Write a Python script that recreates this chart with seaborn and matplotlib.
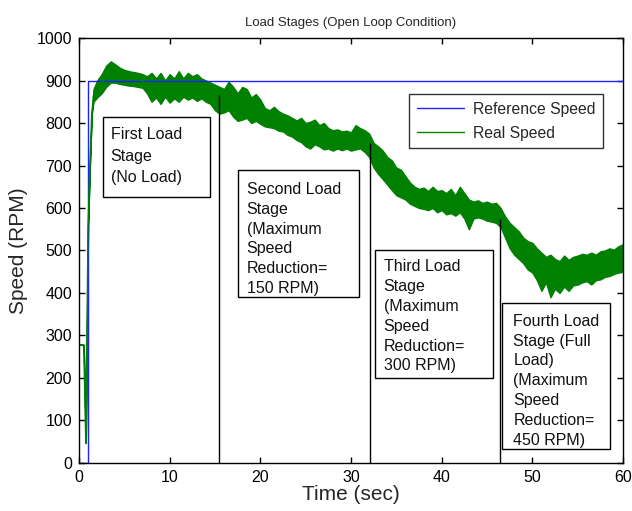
import numpy as np
import pandas as pd
import matplotlib
matplotlib.use("Agg")
import matplotlib.pyplot as plt
from matplotlib.patches import Rectangle
import seaborn as sns

# ---------------- data ----------------
ref_time = [0.0, 1.0, 1.0, 60.0]
ref_speed = [0, 0, 900, 900]

real_time = [0.0, 0.5, 0.55, 0.75, 0.85, 1.0, 1.2, 1.4, 1.6,
             2.0, 2.5, 3.0, 3.5, 4.0, 4.5, 5.0, 5.5, 6.0, 6.5, 7.0, 7.5,
             8.0, 8.5, 9.0, 9.5, 10.0, 10.5, 11.0, 11.5, 12.0, 12.5, 13.0, 13.5,
             14.0, 14.5, 15.0, 15.5, 16.0, 16.5, 17.0, 17.5, 18.0, 18.5, 19.0, 19.5,
             20.0, 20.5, 21.0, 21.5, 22.0, 22.5, 23.0, 23.5, 24.0, 24.5, 25.0, 25.5,
             26.0, 26.5, 27.0, 27.5, 28.0, 28.5, 29.0, 29.5, 30.0, 30.5, 31.0, 31.5,
             32.0, 32.5, 33.0, 33.5, 34.0, 34.5, 35.0, 35.5, 36.0, 36.5, 37.0, 37.5,
             38.0, 38.5, 39.0, 39.5, 40.0, 40.5, 41.0, 41.5, 42.0, 42.5, 43.0, 43.5,
             44.0, 44.5, 45.0, 45.5, 46.0, 46.5, 47.0, 47.5, 48.0, 48.5, 49.0, 49.5,
             50.0, 50.5, 51.0, 51.5, 52.0, 52.5, 53.0, 53.5, 54.0, 54.5, 55.0, 55.5,
             56.0, 56.5, 57.0, 57.5, 58.0, 58.5, 59.0, 59.5, 60.0]
real_low = [278, 278, 250, 47, 260, 560, 700, 820, 850,
            860, 870, 885, 895, 895, 892, 890, 888, 887, 885, 883, 870,
            850, 860, 845, 862, 848, 858, 850, 862, 855, 860, 852, 858,
            850, 845, 830, 822, 825, 830, 815, 805, 808, 812, 800, 805,
            798, 792, 790, 788, 782, 780, 772, 768, 760, 755, 745, 740,
            750, 745, 738, 740, 735, 740, 736, 740, 735, 738, 740, 732,
            720, 695, 680, 668, 655, 642, 630, 625, 620, 610, 605, 600,
            598, 595, 600, 590, 595, 585, 588, 582, 590, 575, 550, 575,
            578, 575, 570, 568, 565, 555, 530, 505, 490, 480, 470, 455,
            448, 430, 405, 425, 390, 410, 400, 415, 405, 418, 420, 425,
            428, 420, 430, 432, 438, 440, 445, 448, 450]
real_high = [278, 278, 250, 47, 260, 560, 700, 820, 880,
             900, 915, 935, 945, 938, 930, 925, 922, 920, 918, 915, 910,
             918, 905, 918, 900, 915, 905, 922, 905, 918, 910, 915, 905,
             900, 895, 890, 885, 880, 897, 885, 870, 885, 880, 860, 868,
             855, 835, 830, 838, 828, 822, 818, 812, 806, 812, 800, 803,
             808, 795, 800, 788, 783, 785, 780, 782, 778, 795, 788, 783,
             775, 753, 745, 735, 720, 712, 695, 690, 675, 660, 650, 645,
             648, 640, 650, 640, 642, 635, 645, 630, 650, 635, 620, 615,
             618, 612, 615, 610, 612, 600, 580, 565, 555, 545, 530, 522,
             518, 505, 495, 485, 490, 480, 475, 488, 478, 485, 488, 492,
             490, 495, 490, 498, 500, 505, 502, 510, 515]

stage_bounds = [15.4, 32.1, 46.4]
stage_tops = [865, 752, 575]

stage_texts = ["First Load\nStage\n(No Load)",
               "Second Load\nStage\n(Maximum\nSpeed\nReduction=\n150 RPM)",
               "Third Load\nStage\n(Maximum\nSpeed\nReduction=\n300 RPM)",
               "Fourth Load\nStage (Full\nLoad)\n(Maximum\nSpeed\nReduction=\n450 RPM)"]
# box layout: (left, bottom, right, top) in data units, text anchor (x, y)
box_extents = [(2.65, 626, 14.5, 814), (17.5, 391, 30.9, 689),
               (32.6, 200, 45.7, 501), (46.7, 33, 58.6, 376)]
text_anchors = [(3.5, 790), (18.5, 661), (33.6, 479), (47.9, 351)]
text_spacing = [1.55, 1.4, 1.4, 1.4]

# ---------------- plot ----------------
sns.set_style("ticks")
plt.rcParams['font.family'] = ['Liberation Sans', 'DejaVu Sans']

fig = plt.figure(figsize=(6.32, 5.11), dpi=100)
ax = fig.add_axes([0.125, 0.094, 0.8608, 0.8316])

ref_df = pd.DataFrame({"Time": ref_time, "Speed": ref_speed})
real_df = pd.DataFrame({"Time": real_time + real_time,
                        "Speed": real_low + real_high})

sns.lineplot(data=ref_df, x="Time", y="Speed", ax=ax, color="#2020ff",
             lw=1.0, label="Reference Speed", sort=False, estimator=None)
sns.lineplot(data=real_df, x="Time", y="Speed", ax=ax, color="#008000",
             lw=1.0, label="Real Speed", estimator="mean",
             errorbar=("pi", 100), err_kws={"alpha": 1.0, "lw": 1.0,
                                             "edgecolor": "#008000"})

ax.vlines(stage_bounds, 0, stage_tops, colors="black", lw=1.0)

for (l, b, r, t), txt, (tx, ty), ls in zip(box_extents, stage_texts,
                                           text_anchors, text_spacing):
    ax.add_patch(Rectangle((l, b), r - l, t - b, fill=True, facecolor="white",
                           edgecolor="black", lw=1.0, zorder=5))
    ax.text(tx, ty, txt, ha="left", va="top", fontsize=11.5,
            linespacing=ls, zorder=6, color="#111111")

ax.set_xlim(0, 60)
ax.set_ylim(0, 1000)
ax.set_xticks(range(0, 61, 10))
ax.set_yticks(range(0, 1001, 100))
ax.tick_params(direction="in", length=4, width=1, top=True, right=True,
               labelsize=11.5, colors="black", pad=5)
for s in ax.spines.values():
    s.set_visible(True)
    s.set_color("black")
    s.set_linewidth(1.0)

ax.set_xlabel("Time (sec)", fontsize=15, labelpad=0)
ax.set_ylabel("Speed (RPM)", fontsize=15, labelpad=6)
ax.set_title("Load Stages (Open Loop Condition)", fontsize=9.5, pad=9)

leg = ax.legend(loc="upper right", bbox_to_anchor=(0.963, 0.868),
                fontsize=11.3, frameon=True, fancybox=False, handlelength=3.0,
                borderpad=0.5, labelspacing=0.55, handletextpad=0.55,
                borderaxespad=0)
leg.get_frame().set_edgecolor("black")
leg.get_frame().set_linewidth(1.0)
leg.set_zorder(7)

fig.savefig("out.png", dpi=100)
